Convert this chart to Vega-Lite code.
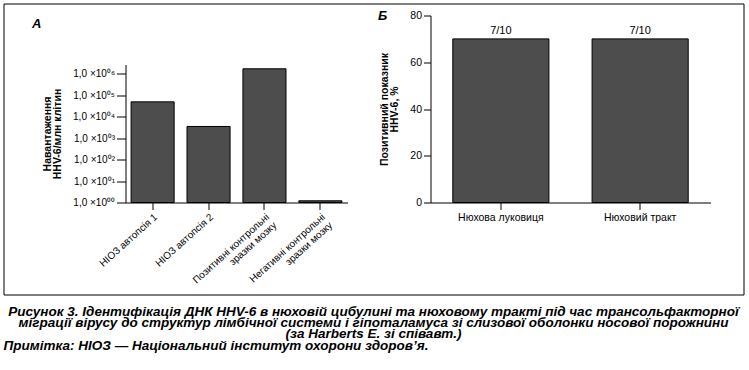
{
  "$schema": "https://vega.github.io/schema/vega-lite/v6.json",
  "padding": {"left": 2.5, "top": 2.5, "right": 2, "bottom": 2},
  "background": "white",
  "config": {
    "font": "Liberation Sans",
    "axis": {
      "domainColor": "black", "domainWidth": 1, "tickColor": "black", "tickSize": 7, "tickWidth": 1,
      "labelColor": "black", "titleColor": "black", "grid": false, "labelFont": "Liberation Sans", "titleFont": "Liberation Sans"
    }
  },
  "title": {
    "text": "Примітка: НІОЗ — Національний інститут охорони здоров’я.",
    "orient": "bottom", "anchor": "start", "frame": "group",
    "font": "Liberation Sans", "fontSize": 13.5, "fontStyle": "italic", "fontWeight": "bold",
    "color": "black", "offset": -2
  },
  "vconcat": [
    {
      "width": 740, "height": 291,
      "view": {"stroke": "black", "strokeWidth": 1},
      "title": {
        "text": [
          "Рисунок 3. Ідентифікація ДНК HHV-6 в нюховій цибулині та нюховому тракті під час трансольфакторної",
          "міграції вірусу до структур лімбічної системи і гіпоталамуса зі слизової оболонки носової порожнини",
          "(за Harberts E. зі співавт.)"
        ],
        "orient": "bottom", "anchor": "middle", "frame": "group",
        "font": "Liberation Sans", "fontSize": 13.5, "fontStyle": "italic", "fontWeight": "bold",
        "color": "black", "lineHeight": 11, "offset": 10
      },
      "resolve": {"scale": {"x": "independent", "y": "independent"}, "axis": {"x": "independent", "y": "independent"}},
      "layer": [
        {
          "data": {"values": [
            {"sample": "НІОЗ автопсія 1", "load": 49000},
            {"sample": "НІОЗ автопсія 2", "load": 3500},
            {"sample": "Позитивні контрольні|зразки мозку", "load": 1700000},
            {"sample": "Негативні контрольні|зразки мозку", "load": 1.2}
          ]},
          "mark": {"type": "bar", "fill": "#4d4d4d", "stroke": "black", "strokeWidth": 1},
          "encoding": {
            "x": {
              "field": "sample", "type": "nominal", "sort": null,
              "scale": {"range": [122, 344], "paddingInner": 0.23, "paddingOuter": 0.1},
              "axis": {"orient": "bottom", "offset": -92, "labelAngle": -42, "labelAlign": "right", "labelBaseline": "top", "labelFontSize": 10, "labelPadding": 2, "labelExpr": "split(datum.label, '|')", "labelLineHeight": 11,
                "title": "А", "titleX": 28, "titleY": -172, "titleAlign": "left", "titleBaseline": "bottom", "titleAngle": 0, "titleFontSize": 13, "titleFontStyle": "italic", "titleFontWeight": "bold"}
            },
            "y": {
              "field": "load", "type": "quantitative",
              "scale": {"type": "log", "domain": [1, 2700000], "nice": false, "range": [199, 61]},
              "axis": {
                "orient": "left", "offset": -122, "tickSize": 9,
                "values": [1, 10, 100, 1000, 10000, 100000, 1000000],
                "labelExpr": "'1,0 ×10' + ['⁰⁰','⁰¹','⁰²','⁰³','⁰⁴','⁰⁵','⁰⁶'][round(log(datum.value)/LN10)]",
                "labelFontSize": 10, "labelPadding": 2,
                "title": ["Навантаження", "HHV-6/млн клітин"], "titleFontSize": 10.5, "titleFontWeight": "bold", "titlePadding": 10, "titleLineHeight": 10.5
              }
            },
            "y2": {"datum": 1}
          }
        },
        {
          "data": {"values": [
            {"region": "Нюхова луковиця", "pct": 70, "label": "7/10"},
            {"region": "Нюховий тракт", "pct": 70, "label": "7/10"}
          ]},
          "encoding": {
            "x": {
              "field": "region", "type": "nominal", "sort": null,
              "scale": {"range": [427, 707], "paddingInner": 0.31, "paddingOuter": 0.16},
              "axis": {"orient": "bottom", "offset": -92, "labelAngle": 0, "labelFontSize": 10.5, "labelPadding": 3,
                "title": "Б", "titleX": 374, "titleY": -180, "titleAlign": "left", "titleBaseline": "bottom", "titleAngle": 0, "titleFontSize": 13, "titleFontStyle": "italic", "titleFontWeight": "bold"}
            },
            "y": {
              "field": "pct", "type": "quantitative",
              "scale": {"domain": [0, 80], "nice": false, "range": [199, 12]},
              "axis": {"orient": "left", "offset": -427, "values": [0, 20, 40, 60, 80], "labelFontSize": 10.5, "labelPadding": 2,
                "title": ["Позитивний показник", "HHV-6, %"], "titleFontSize": 10.5, "titleFontWeight": "bold", "titlePadding": 10, "titleLineHeight": 10.5}
            }
          },
          "layer": [
            {"mark": {"type": "bar", "fill": "#4d4d4d", "stroke": "black", "strokeWidth": 1}},
            {"mark": {"type": "text", "fontSize": 11, "baseline": "alphabetic", "dy": -5, "color": "black"}, "encoding": {"text": {"field": "label"}}}
          ]
        }
      ]
    }
  ]
}
